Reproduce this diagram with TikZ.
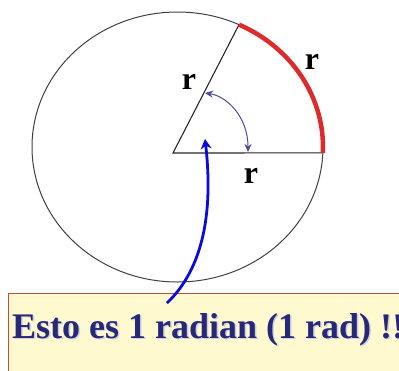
\documentclass[tikz,border=0pt]{standalone}
\usepackage{fontspec}
\setmainfont{Liberation Serif}
\usetikzlibrary{arrows.meta,calc}
\definecolor{arcred}{HTML}{DD2B2B}
\definecolor{angblue}{HTML}{4A4A9E}
\definecolor{arrblue}{HTML}{0A0ADC}
\definecolor{boxfill}{HTML}{FFF9CF}
\definecolor{boxline}{HTML}{B8503C}
\definecolor{txtnavy}{HTML}{282878}
\tikzset{
  rlabel/.style={font=\fontsize{32}{34}\selectfont\bfseries, inner sep=0pt},
  radius line/.style={draw=black!85, line width=1.1pt},
  boxtext/.style={anchor=base west, inner sep=0pt, font=\fontsize{36}{40}\selectfont\bfseries},
}
\begin{document}
\begin{tikzpicture}[x=1pt,y=-1pt]
\useasboundingbox (0,0) rectangle (399,370);
% ellipse
\coordinate (C) at (177.5,147);
\draw[black!75, line width=1pt] (C) ellipse [x radius=145.5, y radius=135];
% sector points
\coordinate (A) at (173,153);
\coordinate (Q) at ($(C)+(-65:145.5 and 135)$);
\coordinate (P) at ($(C)+(2.5:145.5 and 135)$);
\draw[radius line] (Q) -- (A) -- (P);
% red arc
\draw[arcred, line width=4.5pt] (Q) arc[start angle=-65, end angle=2.5, x radius=145.5, y radius=135];
% angle arrow
\coordinate (a1) at (205,93);
\coordinate (a2) at (248,152);
\draw[angblue, line width=1pt, {Stealth[length=8pt,width=7pt]}-{Stealth[length=8pt,width=7pt]}] (a1) .. controls (226,96) and (248,116) .. (a2);
% labels
\node[rlabel] (r1) at (189,82) {r};
\node[rlabel] (r2) at (312,62) {r};
\node[rlabel] (r3) at (251,176) {r};
% box
\fill[boxfill] (8,293) rectangle (410,380);
\draw[boxline, line width=0.8pt] (410,293) -- (8,293) -- (8,380);
\node[boxtext, text=txtnavy!22] (ts) at (13.5,339.5) {Esto es 1 radian (1 rad) !!};
\node[boxtext, text=txtnavy] (t) at (12,338) {Esto es 1 radian (1 rad) !!};
% blue arrow
\coordinate (b0) at (167,303);
\coordinate (b1) at (205,139);
\draw[arrblue, line width=2.8pt, -{Stealth[length=10pt,width=11pt]}] (b0) .. controls (208,264) and (212,200) .. (b1);
\end{tikzpicture}
\end{document}
